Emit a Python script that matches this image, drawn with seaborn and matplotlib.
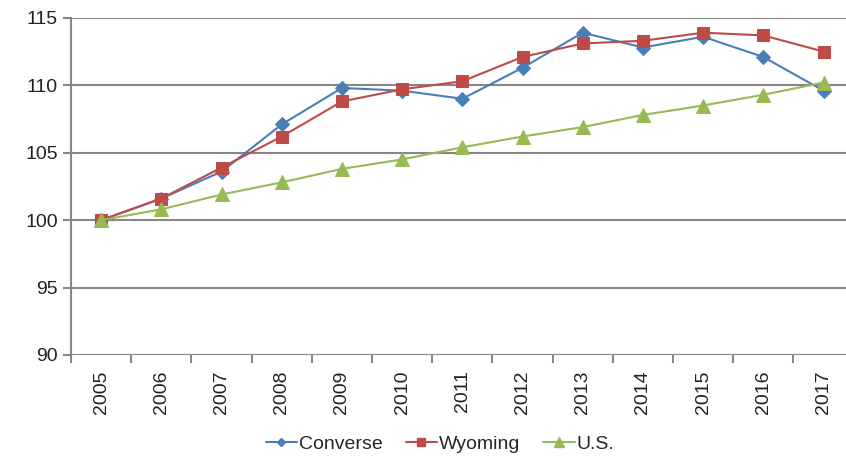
import numpy as np
import pandas as pd
import seaborn as sns
import matplotlib.pyplot as plt
from matplotlib.lines import Line2D

years = ['2005', '2006', '2007', '2008', '2009', '2010', '2011',
         '2012', '2013', '2014', '2015', '2016', '2017']
converse = [100.0, 101.6, 103.6, 107.1, 109.8, 109.6, 109.0,
            111.3, 113.9, 112.8, 113.6, 112.1, 109.6]
wyoming = [100.0, 101.6, 103.9, 106.2, 108.8, 109.7, 110.3,
           112.1, 113.1, 113.3, 113.9, 113.7, 112.5]
us = [100.0, 100.8, 101.9, 102.8, 103.8, 104.5, 105.4,
      106.2, 106.9, 107.8, 108.5, 109.3, 110.2]
series = ['Converse', 'Wyoming', 'U.S.']
colors = ['#4a7ebb', '#be4b48', '#98b954']
markers = ['D', 's', '^']
msizes = [7, 9, 10]


def main():
    sns.set_style('white')
    plt.rcParams['font.family'] = ['Liberation Sans', 'DejaVu Sans']

    df = pd.DataFrame({'Year': years * 3,
                       'x': list(range(len(years))) * 3,
                       'Value': converse + wyoming + us,
                       'Series': np.repeat(series, len(years))})

    fig = plt.figure(figsize=(8.46, 4.58), dpi=100)
    ax = fig.add_axes([0.084, 0.225, 0.925, 0.736])

    for name, c, m, ms in zip(series, colors, markers, msizes):
        sub = df[df['Series'] == name]
        sns.lineplot(data=sub, x='x', y='Value', color=c, marker=m,
                     markersize=ms, markeredgecolor=c, linewidth=1.5,
                     ax=ax, legend=False)

    ax.set_ylim(90, 115)
    ax.set_yticks(range(90, 116, 5))
    ax.set_xlim(-0.5, 12.5)
    ax.set_xticks(range(len(years)))
    ax.set_xticklabels(years, rotation=90, fontsize=14, color='#222222')
    ax.set_xticks(np.arange(-0.5, 12.6, 1), minor=True)
    ax.tick_params(axis='x', which='major', length=0, pad=11)
    ax.tick_params(axis='x', which='minor', length=6, width=1.5,
                   color='#868686', direction='out', bottom=True)
    ax.tick_params(axis='y', length=6, width=1.5, color='#868686',
                   labelsize=14, labelcolor='#222222', left=True)
    ax.set_xlabel('')
    ax.set_ylabel('')

    ax.grid(axis='y', color='#868686', linewidth=1.5)
    ax.set_axisbelow(True)
    for s in ['top', 'right', 'bottom']:
        ax.spines[s].set_visible(False)
    ax.spines['left'].set_color('#868686')
    ax.spines['left'].set_linewidth(1.5)

    handles = [Line2D([], [], color=c, marker=m, markersize=ms * 0.65,
                      linewidth=1.5) for c, m, ms in zip(colors, markers, msizes)]
    fig.legend(handles, series, loc='center', bbox_to_anchor=(0.52, 0.03),
               ncol=3, frameon=False, fontsize=14, handlelength=1.6,
               handletextpad=0.1, columnspacing=1.2)

    fig.savefig('out.png', dpi=100)


if __name__ == '__main__':
    main()
